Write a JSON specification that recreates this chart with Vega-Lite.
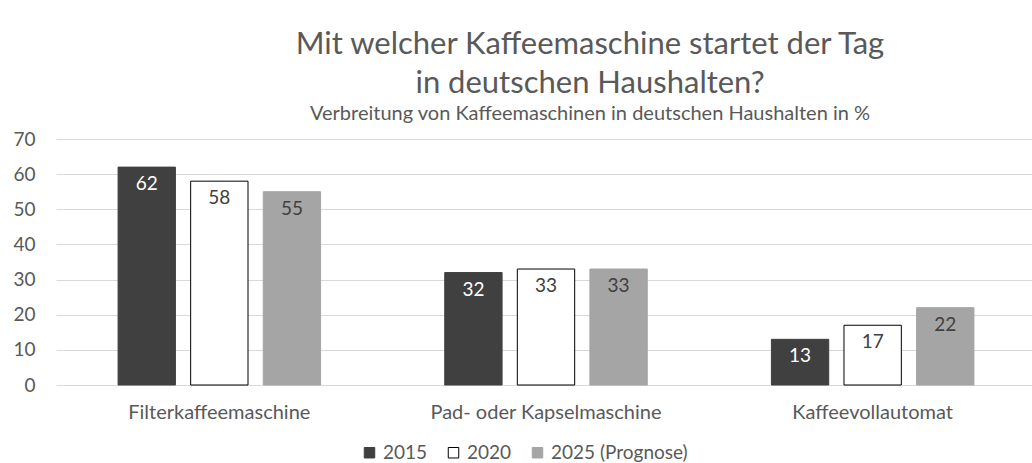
{
  "$schema": "https://vega.github.io/schema/vega-lite/v6.json",
  "autosize": {"type": "none"},
  "width": 980,
  "height": 246,
  "padding": {"left": 56, "top": 139, "right": 0, "bottom": 78},
  "background": "white",
  "title": {
    "text": ["Mit welcher Kaffeemaschine startet der Tag", "in deutschen Haushalten?"],
    "subtitle": "Verbreitung von Kaffeemaschinen in deutschen Haushalten in %",
    "anchor": "middle",
    "frame": "group",
    "dx": 44,
    "offset": 5,
    "font": "Lato",
    "fontSize": 31,
    "fontWeight": "normal",
    "color": "#595959",
    "lineHeight": 39,
    "subtitleFont": "Lato",
    "subtitleFontSize": 20,
    "subtitleColor": "#595959",
    "subtitlePadding": 4
  },
  "data": {
    "values": [
      {"Typ": "Filterkaffeemaschine", "Jahr": "2015", "Wert": 62},
      {"Typ": "Filterkaffeemaschine", "Jahr": "2020", "Wert": 58},
      {"Typ": "Filterkaffeemaschine", "Jahr": "2025 (Prognose)", "Wert": 55},
      {"Typ": "Pad- oder Kapselmaschine", "Jahr": "2015", "Wert": 32},
      {"Typ": "Pad- oder Kapselmaschine", "Jahr": "2020", "Wert": 33},
      {"Typ": "Pad- oder Kapselmaschine", "Jahr": "2025 (Prognose)", "Wert": 33},
      {"Typ": "Kaffeevollautomat", "Jahr": "2015", "Wert": 13},
      {"Typ": "Kaffeevollautomat", "Jahr": "2020", "Wert": 17},
      {"Typ": "Kaffeevollautomat", "Jahr": "2025 (Prognose)", "Wert": 22}
    ]
  },
  "encoding": {
    "x": {
      "field": "Typ", "type": "nominal", "sort": null, "title": null,
      "scale": {"paddingInner": 0.38, "paddingOuter": 0.19},
      "axis": {"labelAngle": 0, "domain": false, "ticks": false, "labelPadding": 17, "labelLimit": 400, "labelFont": "Lato", "labelFontSize": 20, "labelColor": "#595959"}
    },
    "xOffset": {
      "field": "Jahr", "type": "nominal", "sort": null,
      "scale": {"paddingInner": 0.21, "paddingOuter": 0}
    },
    "y": {
      "field": "Wert", "type": "quantitative", "title": null,
      "scale": {"domain": [0, 70], "nice": false},
      "axis": {"values": [0, 10, 20, 30, 40, 50, 60, 70], "domain": false, "ticks": false, "labelPadding": 21, "labelFont": "Lato", "labelFontSize": 19, "labelColor": "#595959", "gridColor": "#d9d9d9", "gridWidth": 1}
    }
  },
  "layer": [
    {
      "mark": {"type": "bar", "strokeWidth": 1},
      "encoding": {
        "color": {
          "field": "Jahr", "type": "nominal", "sort": null, "title": null,
          "scale": {"domain": ["2015", "2020", "2025 (Prognose)"], "range": ["#404040", "#ffffff", "#a5a5a5"]},
          "legend": {
            "orient": "none", "direction": "horizontal", "legendX": 304, "legendY": 304,
            "symbolType": "square", "symbolSize": 110, "symbolOpacity": 1, "symbolStrokeWidth": 1,
            "labelFont": "Lato", "labelFontSize": 19, "labelColor": "#595959",
            "labelOffset": 4, "columnPadding": 16
          }
        },
        "stroke": {
          "field": "Jahr", "type": "nominal", "sort": null, "title": null,
          "scale": {"domain": ["2015", "2020", "2025 (Prognose)"], "range": ["#404040", "#000000", "#a5a5a5"]}
        }
      }
    },
    {
      "mark": {"type": "text", "baseline": "middle", "dy": 17, "font": "Lato", "fontSize": 19},
      "encoding": {
        "text": {"field": "Wert", "type": "quantitative"},
        "color": {"condition": {"test": "datum.Jahr === '2015'", "value": "#ffffff"}, "value": "#404040"}
      }
    }
  ],
  "config": {"view": {"stroke": null}}
}
